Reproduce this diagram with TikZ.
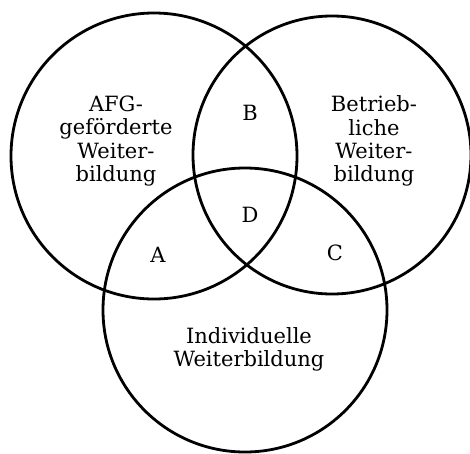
\documentclass[tikz,border=0pt]{standalone}
\usepackage{fontspec}
\setmainfont{DejaVu Serif}

\begin{document}
\begin{tikzpicture}[x=1pt, y=-1pt,
    kreis/.style={line width=2.8pt},
    tekst/.style={align=center, inner sep=0pt, font=\fontsize{21}{23.3}\selectfont}]
    % Vaste afmetingen van het plaatje
    \useasboundingbox (0,0) rectangle (470,453);

    % Middelpunten van de drie cirkels
    \coordinate (AFG) at (154,156); % AFG-gefoerderte Weiterbildung
    \coordinate (BET) at (332,155); % Betriebliche Weiterbildung
    \coordinate (IND) at (245,310); % Individuelle Weiterbildung

    % Teken de cirkels
    \draw[kreis] (AFG) circle[radius=143pt];
    \draw[kreis] (BET) circle[radius=139pt];
    \draw[kreis] (IND) circle[radius=142pt];

    % Namen van de cirkels
    \node[tekst] (afgtekst) at (116,141) {AFG-\\geförderte\\Weiter-\\bildung};
    \node[tekst] (bettekst) at (374,141) {Betrieb-\\liche\\Weiter-\\bildung};
    \node[tekst] (indtekst) at (249,349) {Individuelle\\Weiterbildung};

    % Doorsneden
    \node[tekst] (A) at (158,255) {A};
    \node[tekst] (B) at (250,113) {B};
    \node[tekst] (C) at (335,253) {C};
    \node[tekst] (D) at (250,215) {D};
\end{tikzpicture}
\end{document}
